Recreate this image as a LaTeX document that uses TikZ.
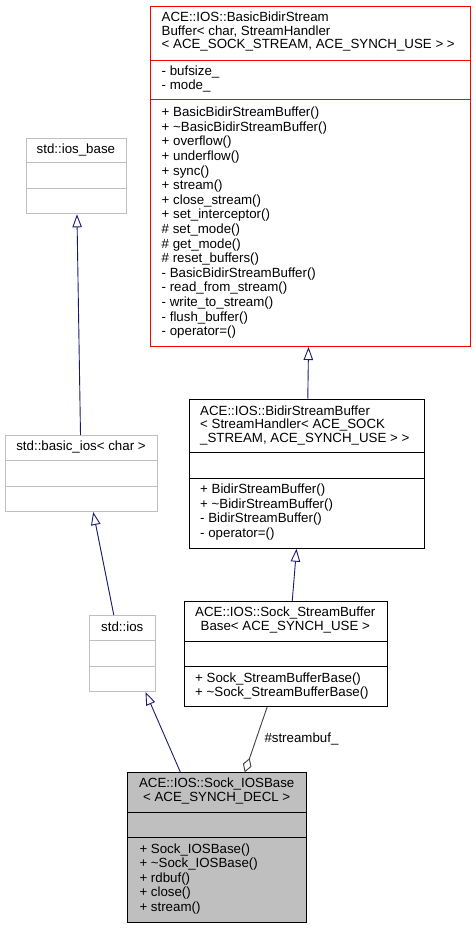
\documentclass[tikz,border=0pt]{standalone}
\usepackage{fontspec}
\setmainfont{Liberation Sans}
\usetikzlibrary{arrows.meta}
\definecolor{navyedge}{HTML}{191970}
\definecolor{grayborder}{HTML}{BFBFBF}
\definecolor{grayfill}{HTML}{BFBFBF}
\definecolor{aggedge}{HTML}{404040}
\tikzset{
  cls/.style={draw=black, line width=1pt, inner sep=0pt, anchor=north west, rectangle},
  clsred/.style={cls, draw=red},
  clsgray/.style={cls, draw=grayborder},
  clsfill/.style={cls, fill=grayfill},
  txt/.style={inner sep=0pt, font=\fontsize{13.3}{13.6}\selectfont},
  lefttxt/.style={txt, anchor=base west},
  midtxt/.style={txt, anchor=base},
  inherit/.style={draw=navyedge, line width=0.9pt, -{Triangle[open, length=13pt, width=9.5pt]}},
  aggreg/.style={draw=aggedge, line width=0.9pt, {Diamond[open, length=15pt, width=9pt]}-},
  sepline/.style={line width=1pt},
}
\begin{document}
\begin{tikzpicture}[x=1pt, y=-1pt]
\useasboundingbox (0,0) rectangle (476,928);

% ---- ACE::IOS::BasicBidirStreamBuffer (red) ----
\node[clsred, minimum width=320pt, minimum height=340pt] (R) at (150,6) {};
\draw[sepline, red] ([yshift=-55pt]R.north west) -- ([yshift=-55pt]R.north east);
\draw[sepline, red] ([yshift=-94pt]R.north west) -- ([yshift=-94pt]R.north east);
\foreach \t [count=\i] in {ACE::IOS::BasicBidirStream, {Buffer< char, StreamHandler}, {< ACE\_SOCK\_STREAM, ACE\_SYNCH\_USE > >}}
  \node[lefttxt] (rt\i) at (161.5, 21.7+13.5*\i-13.5) {\t};
\foreach \t [count=\i] in {- bufsize\_, - mode\_}
  \node[lefttxt] (rf\i) at (161.5, 75.7+14*\i-14) {\t};
\foreach \t [count=\i] in {+ BasicBidirStreamBuffer(), + \textasciitilde BasicBidirStreamBuffer(), + overflow(), + underflow(), + sync(), + stream(), + close\_stream(), + set\_interceptor(), \# set\_mode(), \# get\_mode(), \# reset\_buffers(), - BasicBidirStreamBuffer(), - read\_from\_stream(), - write\_to\_stream(), - flush\_buffer(), - operator=()}
  \node[lefttxt] (rm\i) at (161.5, 116.7+14.6*\i-14.6) {\t};

% ---- std::ios_base ----
\node[clsgray, minimum width=100.3pt, minimum height=75.6pt] (IB) at (25.7,137.7) {};
\draw[sepline, grayborder] ([yshift=-25.3pt]IB.north west) -- ([yshift=-25.3pt]IB.north east);
\draw[sepline, grayborder] ([yshift=-50.6pt]IB.north west) -- ([yshift=-50.6pt]IB.north east);
\node[midtxt] (ibt) at (75.9, 153.6) {std::ios\_base};

% ---- std::basic_ios< char > ----
\node[clsgray, minimum width=152pt, minimum height=76pt] (BI) at (5,435) {};
\draw[sepline, grayborder] ([yshift=-25pt]BI.north west) -- ([yshift=-25pt]BI.north east);
\draw[sepline, grayborder] ([yshift=-51pt]BI.north west) -- ([yshift=-51pt]BI.north east);
\node[midtxt] (bit) at (81, 450.8) {std::basic\_ios< char >};

% ---- ACE::IOS::BidirStreamBuffer ----
\node[cls, minimum width=235pt, minimum height=149pt] (BD) at (189,398.7) {};
\draw[sepline] ([yshift=-54pt]BD.north west) -- ([yshift=-54pt]BD.north east);
\draw[sepline] ([yshift=-80pt]BD.north west) -- ([yshift=-80pt]BD.north east);
\foreach \t [count=\i] in {ACE::IOS::BidirStreamBuffer, {< StreamHandler< ACE\_SOCK}, {\_STREAM, ACE\_SYNCH\_USE > >}}
  \node[lefttxt] (bdt\i) at (200, 415+13.6*\i-13.6) {\t};
\foreach \t [count=\i] in {+ BidirStreamBuffer(), + \textasciitilde BidirStreamBuffer(), - BidirStreamBuffer(), - operator=()}
  \node[lefttxt] (bdm\i) at (200, 493.5+14.5*\i-14.5) {\t};

% ---- std::ios ----
\node[clsgray, minimum width=66pt, minimum height=76pt] (IO) at (89.3,615) {};
\draw[sepline, grayborder] ([yshift=-25.7pt]IO.north west) -- ([yshift=-25.7pt]IO.north east);
\draw[sepline, grayborder] ([yshift=-51pt]IO.north west) -- ([yshift=-51pt]IO.north east);
\node[midtxt] (iot) at (122.3, 631) {std::ios};

% ---- ACE::IOS::Sock_StreamBufferBase ----
\node[cls, minimum width=202.7pt, minimum height=104.7pt] (SB) at (184,601) {};
\draw[sepline] ([yshift=-40pt]SB.north west) -- ([yshift=-40pt]SB.north east);
\draw[sepline] ([yshift=-65pt]SB.north west) -- ([yshift=-65pt]SB.north east);
\foreach \t [count=\i] in {ACE::IOS::Sock\_StreamBuffer, {Base< ACE\_SYNCH\_USE >}}
  \node[midtxt] (sbt\i) at (285.3, 616.7+13.8*\i-13.8) {\t};
\foreach \t [count=\i] in {+ Sock\_StreamBufferBase(), + \textasciitilde Sock\_StreamBufferBase()}
  \node[lefttxt] (sbm\i) at (195, 682.3+14.4*\i-14.4) {\t};

% ---- ACE::IOS::Sock_IOSBase ----
\node[clsfill, minimum width=178.7pt, minimum height=149.7pt] (SI) at (127.3,772.3) {};
\draw[sepline] ([yshift=-39.7pt]SI.north west) -- ([yshift=-39.7pt]SI.north east);
\draw[sepline] ([yshift=-65pt]SI.north west) -- ([yshift=-65pt]SI.north east);
\foreach \t [count=\i] in {ACE::IOS::Sock\_IOSBase, {< ACE\_SYNCH\_DECL >}}
  \node[midtxt] (sit\i) at (216.7, 787.6+13.9*\i-13.9) {\t};
\foreach \t [count=\i] in {+ Sock\_IOSBase(), + \textasciitilde Sock\_IOSBase(), + rdbuf(), + close(), + stream()}
  \node[lefttxt] (sim\i) at (139.3, 853.6+14.35*\i-14.35) {\t};

% ---- connectors ----
\draw[inherit] ([xshift=-1pt]BI.north) -- ([xshift=0.6pt]IB.south);
\draw[inherit] ([xshift=-9pt]IO.north) -- ([xshift=11.7pt]BI.south);
\draw[inherit] ([xshift=0.8pt]BD.north) -- ([xshift=-2pt]R.south);
\draw[inherit] ([xshift=6.4pt]SB.north) -- ([xshift=-10.5pt]BD.south);
\draw[inherit] ([xshift=-36.7pt]SI.north) -- ([xshift=22.7pt]IO.south);
\draw[aggreg] ([xshift=27.6pt]SI.north) -- ([xshift=-18.6pt]SB.south);
\node[lefttxt] (agglabel) at (264.3, 742.3) {\#streambuf\_};
\end{tikzpicture}
\end{document}
